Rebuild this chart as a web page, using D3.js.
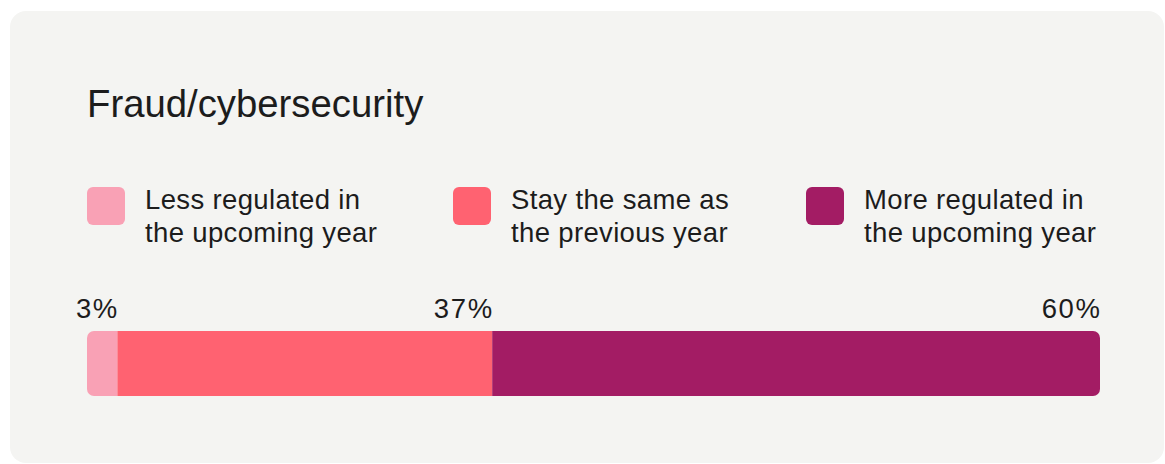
<!DOCTYPE html>
<html>
<head>
<meta charset="utf-8">
<script src="https://cdn.jsdelivr.net/npm/d3@7"></script>
<style>
  html, body { margin: 0; padding: 0; background: #ffffff; }
  svg { display: block; }
  text { font-family: "Liberation Sans", Arial, sans-serif; fill: #1c1c1c; }
</style>
</head>
<body>
<svg id="chart" width="1165" height="464"></svg>
<script>
// Survey answers for one topic
const title = "Fraud/cybersecurity";
const categories = ["Less regulated in the upcoming year", "Stay the same as the previous year", "More regulated in the upcoming year"];
const legendLines = [
  ["Less regulated in", "the upcoming year"],
  ["Stay the same as", "the previous year"],
  ["More regulated in", "the upcoming year"]
];
const values = [3, 37, 60];
const valueLabels = ["3%", "37%", "60%"];
const colors = ["#F9A1B5", "#FF6271", "#A31C64"];

const svg = d3.select("#chart");

// card background
svg.append("rect")
  .attr("x", 10).attr("y", 11)
  .attr("width", 1154).attr("height", 452)
  .attr("rx", 16)
  .attr("fill", "#F4F4F2");

// title
svg.append("text")
  .attr("x", 87).attr("y", 117)
  .attr("font-size", 38.3)
  .text(title);

// legend
const legendX = [87, 453, 806];
const legend = svg.append("g").selectAll("g")
  .data(categories)
  .join("g")
  .attr("transform", (d, i) => `translate(${legendX[i]},187)`);

legend.append("rect")
  .attr("width", 38).attr("height", 38)
  .attr("rx", 6)
  .attr("fill", (d, i) => colors[i]);

legend.append("text")
  .attr("x", 58)
  .attr("font-size", 27.5)
  .attr("letter-spacing", 0.35)
  .selectAll("tspan")
  .data((d, i) => legendLines[i])
  .join("tspan")
  .attr("x", 58)
  .attr("y", (d, j) => 22 + j * 32.5)
  .text(d => d);

// stacked bar
const x = d3.scaleLinear().domain([0, d3.sum(values)]).range([87, 1100]);
const barY = 331, barH = 65;

const stacked = [];
let acc = 0;
values.forEach((v, i) => { stacked.push({ start: acc, end: acc + v, i }); acc += v; });

svg.append("clipPath").attr("id", "barClip")
  .append("rect")
  .attr("x", x(0)).attr("y", barY)
  .attr("width", x(acc) - x(0)).attr("height", barH)
  .attr("rx", 7);

svg.append("g").attr("clip-path", "url(#barClip)")
  .selectAll("rect")
  .data(stacked)
  .join("rect")
  .attr("x", d => x(d.start))
  .attr("y", barY)
  .attr("width", d => x(d.end) - x(d.start))
  .attr("height", barH)
  .attr("fill", d => colors[d.i]);

// value labels, right-aligned to each segment's end
svg.append("g").selectAll("text")
  .data(stacked)
  .join("text")
  .attr("x", d => x(d.end) + 1.5)
  .attr("y", 318)
  .attr("text-anchor", "end")
  .attr("font-size", 27.5)
  .attr("letter-spacing", 1.6)
  .text(d => valueLabels[d.i]);
</script>
</body>
</html>
